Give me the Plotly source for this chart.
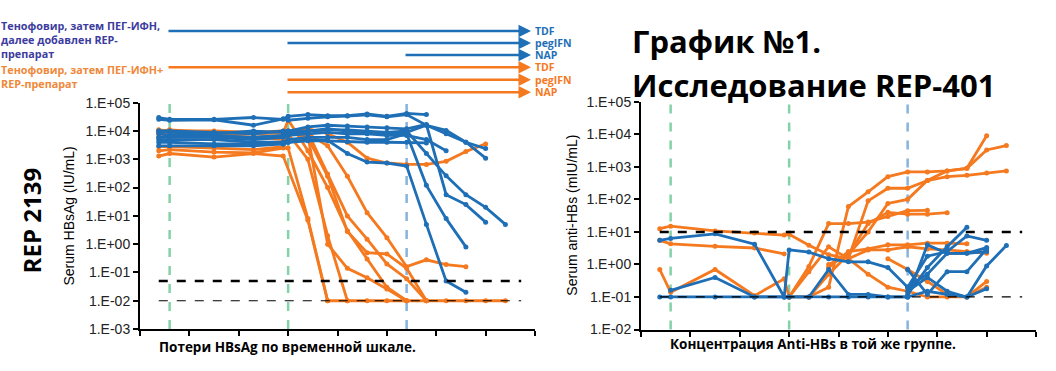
import plotly.graph_objects as go

W, H = 1056, 371

# time grid (axis units; 8 major ticks, no labels)
T = [0.38, 0.6, 1.5, 2.3, 2.9, 3.0, 3.4, 3.8, 4.2, 4.6, 5.0, 5.4, 5.8, 6.2, 6.6, 7.0, 7.4]
N = None

# ---------- Left chart: Serum HBsAg (IU/mL) ----------
hbs_blue = [
    [3e4, 2.6e4, 2.6e4, 3e4, 2.6e4, 3.3e4, 3.8e4, 3.5e4, 3.5e4, 4e4, 3.3e4, 4.2e4, 3.8e4, N, N, N, N],
    [2.6e4, 2.4e4, 2.5e4, 1.6e4, 2.7e4, 2.4e4, 2.8e4, 3.2e4, 3.4e4, 3.7e4, 3.2e4, 3.8e4, 1.6e4, 1.05e4, 4e3, 1.1e3, N],
    [1e4, 1e4, 9e3, 8e3, 1e4, 1e4, 1.4e4, 1.6e4, 1.5e4, 1.4e4, 1.3e4, 1.2e4, 1.7e4, 56, 25, 6, N],
    [8e3, 7e3, 7e3, 6e3, 7e3, 8e3, 1e4, 1.1e4, 1.1e4, 1e4, 9e3, 1e4, 1.6e3, 260, 56, 20, 5],
    [3e3, 3e3, 3e3, 3e3, 3.5e3, 4e3, 5e3, 4.7e3, 1.6e3, 800, 740, 580, 5, 0.05, 0.02, N, N],
    [5e3, 5e3, 5e3, 4e3, 4e3, 5e3, 6e3, 6e3, 6e3, 5e3, 5e3, 8e3, 120, 8, 0.8, N, N],
    [4e3, 4e3, 3.5e3, 3.5e3, 3.5e3, 4e3, 4.5e3, 4.5e3, 4.2e3, 4e3, 4e3, 4e3, 3.8e3, N, N, N, N],
    [1e4, 9e3, 8e3, 1e4, 9e3, 1e4, 1e4, 1.2e4, 1e4, 9e3, 8e3, 9e3, 1.6e4, 8e3, 4e3, 2.4e3, N],
    [6e3, 6e3, 6e3, 5e3, 6e3, 7e3, 8e3, 9e3, 8e3, 8e3, 7e3, 7e3, 5e3, 2e3, N, N, N],
]
hbs_orange = [
    [1.3e3, 1.6e3, 1.2e3, 1.6e3, 1.3e3, N, 7, 0.01, 0.01, 0.01, 0.01, 0.01, 0.01, 0.01, 0.01, 0.01, 0.01],
    [2e3, 2.2e3, 1.8e3, 1.7e3, 2.5e3, 2.5e3, 8, 0.01, N, N, N, N, N, N, N, N, N],
    [2.8e3, 2.8e3, 2.5e3, 2.2e3, 2.8e3, 8e3, 1e3, 2, 0.01, N, N, N, N, N, N, N, N],
    [8e3, 9e3, 7e3, 6e3, 5e3, 1e4, 7e3, 1, 0.14, 0.065, 0.026, 0.01, N, N, N, N, N],
    [1e4, 1.1e4, 9e3, 8e3, 9e3, 9e3, 6e3, 250, 2.8, 0.5, 0.45, 0.14, 0.01, N, N, N, N],
    [6e3, 7e3, 7e3, 6e3, 7e3, 8e3, 8e3, 3e3, 250, 13, 1.7, 0.16, 0.28, 0.19, 0.16, N, N],
    [9e3, 8e3, 8e3, 8e3, 9e3, 9e3, 9e3, 300, 10, 1.5, 0.2, 0.06, 0.01, N, N, N, N],
    [1.1e4, 1e4, 1e4, 9e3, 1e4, 1e4, 1.2e4, 8e3, 4e3, 1.1e3, 740, 660, 660, 850, 1.9e3, 3.5e3, N],
    [N, N, N, N, 8e3, 2.5e4, 2e3, 100, 3, 0.3, 0.03, 0.01, N, N, N, N, N],
]

# ---------- Right chart: Serum anti-HBs (mIU/mL) ----------
ahb_orange = [
    [12.6, 15, 10.7, 9.3, 8, 8.5, 3.9, 2, 1.5, 2.8, 2.8, 3.5, 3, 2.8, 2.5, 2.2, N],
    [5.5, 4.3, 3.6, 3.2, 2.1, N, N, N, N, N, N, N, N, N, N, N, N],
    [0.7, 0.14, 0.7, 0.11, 0.36, 0.1, N, N, N, N, N, N, N, N, N, N, N],
    [N, N, N, N, N, 0.1, 0.87, 18, 18, 20, 30, 45, 46, N, N, N, N],
    [N, N, N, N, N, 0.1, 0.1, 0.2, 60, 170, 500, 700, 700, 750, 900, 9000, N],
    [N, N, N, N, N, 0.1, 0.6, 3.5, 1.5, 90, 220, 220, 380, 500, 550, 650, 750],
    [N, N, N, N, N, N, 0.1, 0.5, 2, 10, 75, 100, 380, 750, 900, 3300, 4500],
    [N, N, N, N, N, N, N, 1, 2, 18, 40, 35, 35, 39, N, N, N],
    [N, N, N, N, N, N, N, 0.8, 2.5, 3, 4, 4, 4.5, 4.5, 4.3, N, N],
    [N, N, N, N, N, N, N, N, 1.5, 0.5, 0.2, 0.15, 0.1, 0.1, 0.1, 0.3, N],
    [N, N, N, N, N, N, N, N, N, N, 1.5, 0.7, 0.3, 0.12, 0.1, 0.2, N],
]
ahb_blue = [
    [5.5, 6.3, 8.7, 4.2, 0.1, 2.8, 2.4, 1.5, 1.2, 1.2, 0.8, 0.2, 0.5, 2.2, 2.2, 3.3, N],
    [N, 0.16, 0.4, 0.1, 0.1, 0.1, 0.1, 0.7, 0.12, 0.12, 0.1, 0.1, N, N, N, N, N],
    [0.1, 0.1, 0.1, 0.1, 0.1, 0.1, 0.1, 0.1, 0.1, 0.1, 0.1, 0.1, 4, 2.2, 2.2, 2.5, N],
    [N, N, N, N, N, N, N, N, N, N, N, 0.12, 0.8, 3.5, 14, N, N],
    [N, N, N, N, N, N, N, N, N, N, N, 0.2, 1.8, 2.5, 7.5, 5.5, N],
    [N, N, N, N, N, N, N, N, N, N, N, 0.1, 0.15, 0.12, 0.1, 0.9, 3.8],
    [N, N, N, N, N, N, N, N, N, N, N, 0.7, 0.12, 0.6, 0.6, 3, N],
    [N, N, N, N, N, N, N, N, N, N, N, 0.15, 0.4, 0.15, 0.1, 0.18, N],
]

left_ticks = [1e-3, 1e-2, 1e-1, 1, 10, 100, 1e3, 1e4, 1e5]
left_labels = ["1.E-03", "1.E-02", "1.E-01", "1.E+00", "1.E+01", "1.E+02", "1.E+03", "1.E+04", "1.E+05"]
right_ticks = [1e-2, 1e-1, 1, 10, 100, 1e3, 1e4, 1e5]
right_labels = ["1.E-02", "1.E-01", "1.E+00", "1.E+01", "1.E+02", "1.E+03", "1.E+04", "1.E+05"]

phase_lines = [0.6, 3.0, 5.4]            # treatment start markers
phase_colors = ["#84d2a8", "#84d2a8", "#86b4dc"]
left_limits = [0.05, 0.01]               # thick / thin dashed
right_limits = [10, 0.1]

BLUE = "#1f6fb6"
ORANGE = "#f5791f"

fig = go.Figure()

def add_series(data, color, xa, ya):
    for s in data:
        fig.add_trace(go.Scatter(
            x=T, y=s, mode="lines+markers", connectgaps=True,
            line=dict(color=color, width=2.8), marker=dict(color=color, size=5),
            xaxis=xa, yaxis=ya, showlegend=False, hoverinfo="skip"))

add_series(hbs_orange, ORANGE, "x", "y")
add_series(hbs_blue, BLUE, "x", "y")
add_series(ahb_orange, ORANGE, "x2", "y2")
add_series(ahb_blue, BLUE, "x2", "y2")

def px_x(p):
    return p / W

def px_y(p):
    return 1 - p / H

axis_common = dict(showgrid=False, zeroline=False, showline=True, linecolor="black",
                   linewidth=2, ticks="outside", ticklen=5, tickwidth=1.5, tickcolor="black")
tickfont = dict(family="Liberation Sans, Arial", size=14, color="#222")

fig.update_layout(
    width=W, height=H, margin=dict(l=0, r=0, t=0, b=0),
    paper_bgcolor="white", plot_bgcolor="white",
    xaxis=dict(domain=[px_x(140), px_x(535)], range=[0, 8], tickvals=list(range(9)),
               showticklabels=False, anchor="y", **axis_common),
    yaxis=dict(domain=[px_y(335.5), px_y(99)], type="log", range=[-3, 5],
               tickvals=left_ticks, ticktext=left_labels, tickfont=tickfont,
               anchor="x", **axis_common),
    xaxis2=dict(domain=[px_x(641), px_x(1036)], range=[0, 8], tickvals=list(range(9)),
                showticklabels=False, anchor="y2", **axis_common),
    yaxis2=dict(domain=[px_y(336), px_y(98)], type="log", range=[-2, 5],
                tickvals=right_ticks, ticktext=right_labels, tickfont=tickfont,
                anchor="x2", **axis_common),
)

shapes = []
for xr, yr, limits in (("x", "y", left_limits), ("x2", "y2", right_limits)):
    for xv, c in zip(phase_lines, phase_colors):
        shapes.append(dict(type="line", xref=xr, yref=yr + " domain", x0=xv, x1=xv, y0=0, y1=1,
                           line=dict(color=c, width=2.5, dash="dash"), layer="below"))
    shapes.append(dict(type="line", xref=xr, yref=yr, x0=0.38, x1=7.72, y0=limits[0], y1=limits[0],
                       line=dict(color="black", width=2.5, dash="dash")))
    shapes.append(dict(type="line", xref=xr, yref=yr, x0=0.38, x1=7.72, y0=limits[1], y1=limits[1],
                       line=dict(color="black", width=1.2, dash="dash")))
fig.update_layout(shapes=shapes)

ann = []
txt_font = "Open Sans, Noto Sans, sans-serif"

# regimen arrows
arrow_rows = [
    ("TDF", BLUE, 24, 167), ("pegIFN", BLUE, 36.5, 286), ("NAP", BLUE, 49, 404),
    ("TDF", ORANGE, 62, 167), ("pegIFN", ORANGE, 75, 286), ("NAP", ORANGE, 88, 286),
]
for label, col, ypx, x0 in arrow_rows:
    ann.append(dict(x=px_x(531), y=px_y(ypx), xref="paper", yref="paper", text="",
                    showarrow=True, ax=x0 - 531, ay=0, axref="pixel", ayref="pixel",
                    arrowhead=2, arrowsize=1.0, arrowwidth=2.5, arrowcolor=col, standoff=0))
    ann.append(dict(x=px_x(534), y=px_y(ypx), xref="paper", yref="paper", text="<b>%s</b>" % label,
                    showarrow=False, xanchor="left", yanchor="middle", borderpad=0,
                    font=dict(family=txt_font, size=10.5, color=col)))

ann.append(dict(x=0, y=px_y(9), xref="paper", yref="paper", xanchor="left", yanchor="top",
                align="left", showarrow=False, borderpad=0,
                text="<b>Тенофовир, затем ПЕГ-ИФН,<br>далее добавлен REP-<br>препарат</b>",
                font=dict(family=txt_font, size=10.8, color="#3c3c9e")))
ann.append(dict(x=0, y=px_y(55), xref="paper", yref="paper", xanchor="left", yanchor="top",
                align="left", showarrow=False, borderpad=0,
                text="<b>Тенофовир, затем ПЕГ-ИФН+<br>REP-препарат</b>",
                font=dict(family=txt_font, size=10.8, color="#f0883a")))

# titles
ann.append(dict(x=px_x(630), y=px_y(35), xref="paper", yref="paper", xanchor="left", yanchor="middle",
                showarrow=False, text="<b>График №1.</b>",
                font=dict(family=txt_font, size=31, color="black")))
ann.append(dict(x=px_x(630), y=px_y(80), xref="paper", yref="paper", xanchor="left", yanchor="middle",
                showarrow=False, text="<b>Исследование REP-401</b>",
                font=dict(family=txt_font, size=31, color="black")))

ann.append(dict(x=px_x(31), y=px_y(223), xref="paper", yref="paper", xanchor="center", yanchor="middle",
                showarrow=False, textangle=-90, text="<b>REP 2139</b>",
                font=dict(family=txt_font, size=24, color="black")))

ann.append(dict(x=px_x(69), y=px_y(218), xref="paper", yref="paper", xanchor="center", yanchor="middle",
                showarrow=False, textangle=-90, text="Serum HBsAg (IU/mL)",
                font=dict(family="Liberation Sans, Arial", size=14, color="black")))
ann.append(dict(x=px_x(572), y=px_y(217), xref="paper", yref="paper", xanchor="center", yanchor="middle",
                showarrow=False, textangle=-90, text="Serum anti-HBs (mIU/mL)",
                font=dict(family="Liberation Sans, Arial", size=14, color="black")))

ann.append(dict(x=px_x(157), y=px_y(354), xref="paper", yref="paper", xanchor="left", yanchor="middle",
                showarrow=False, text="<b>Потери HBsAg по временной шкале.</b>",
                font=dict(family=txt_font, size=13.5, color="black")))
ann.append(dict(x=px_x(668), y=px_y(351), xref="paper", yref="paper", xanchor="left", yanchor="middle",
                showarrow=False, text="<b>Концентрация Anti-HBs в той же группе.</b>",
                font=dict(family=txt_font, size=13.5, color="black")))

fig.update_layout(annotations=ann)
fig.write_html("out.html", config={"displayModeBar": False},
               post_script="document.body.style.margin='0px';document.body.style.overflow='hidden';")
